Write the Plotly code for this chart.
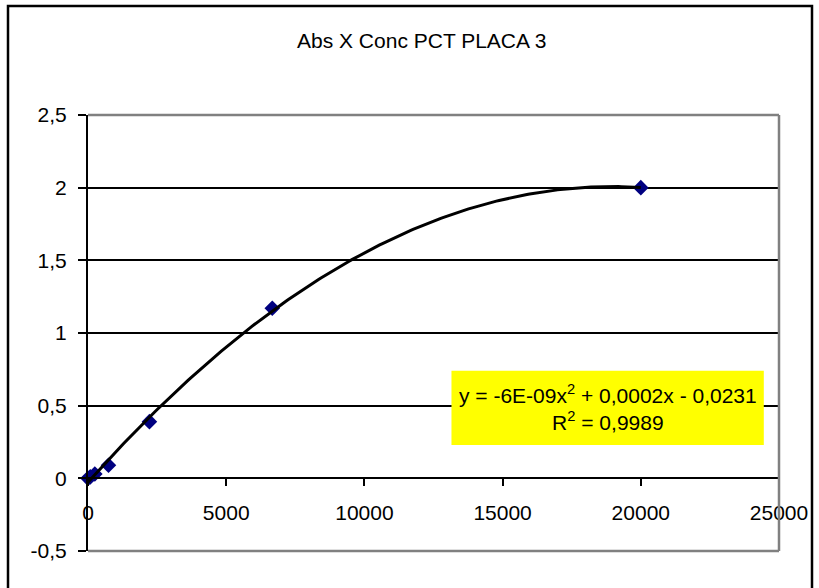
import numpy as np
import plotly.graph_objects as go

# Data
conc = [0, 82, 247, 741, 2222, 6667, 20000]
absorb = [0.0, 0.01, 0.03, 0.09, 0.39, 1.17, 2.0]

x_ticks = [0, 5000, 10000, 15000, 20000, 25000]
y_ticks = [-0.5, 0, 0.5, 1, 1.5, 2, 2.5]
y_tick_text = ["-0,5", "0", "0,5", "1", "1,5", "2", "2,5"]

title_text = "Abs X Conc PCT PLACA 3"
eq_text = "y = -6E-09x<sup>2</sup> + 0,0002x - 0,0231<br>R<sup>2</sup> = 0,9989"

# Polynomial (order 2) trendline fitted to the data, as in the original
coef = np.polyfit(conc, absorb, 2)
xs = np.linspace(min(conc), max(conc), 200)
ys = np.polyval(coef, xs)

font = "Liberation Sans, Arial, sans-serif"
FS = 21

fig = go.Figure()
fig.add_trace(go.Scatter(x=conc, y=absorb, mode="markers",
                         marker=dict(symbol="diamond", size=12, color="#000080"),
                         showlegend=False, cliponaxis=False))
fig.add_trace(go.Scatter(x=xs, y=ys, mode="lines",
                         line=dict(color="black", width=3),
                         showlegend=False))

W, H = 819, 588
L, R, T, B = 88, 40, 115, 37
fig.update_layout(
    width=W, height=H,
    margin=dict(l=L, r=R, t=T, b=B, pad=0),
    paper_bgcolor="white", plot_bgcolor="white",
    font=dict(family=font, size=FS, color="black"),
    xaxis=dict(range=[0, 25000], tickvals=x_ticks, ticktext=[str(v) for v in x_ticks],
               anchor="free", position=1/6, showline=True, linecolor="black", linewidth=2,
               ticks="outside", ticklen=7, tickwidth=2, tickcolor="black",
               ticklabelstandoff=8,
               showgrid=False, zeroline=False, tickfont=dict(size=FS)),
    yaxis=dict(range=[-0.5, 2.5], tickvals=y_ticks, ticktext=y_tick_text,
               showline=True, linecolor="black", linewidth=2,
               ticks="outside", ticklen=8, tickwidth=2, tickcolor="black",
               ticklabelstandoff=7,
               showgrid=True, gridcolor="black", gridwidth=2, zeroline=False,
               tickfont=dict(size=FS)),
    shapes=[
        # plot area border (gray)
        dict(type="line", xref="paper", yref="paper", x0=0, x1=1, y0=1, y1=1,
             line=dict(color="#808080", width=2.5)),
        dict(type="line", xref="paper", yref="paper", x0=1, x1=1, y0=0, y1=1,
             line=dict(color="#808080", width=2.5)),
        dict(type="line", xref="paper", yref="paper", x0=0, x1=1, y0=0, y1=0,
             line=dict(color="#808080", width=2.5)),
        # outer chart border
        dict(type="rect", xref="paper", yref="paper",
             x0=(8 - L) / (W - L - R), x1=(812 - L) / (W - L - R),
             y0=-(B + 20) / (H - T - B), y1=1 + (T - 6) / (H - T - B),
             line=dict(color="black", width=2.5), layer="below"),
        # yellow label box
        dict(type="rect", xref="x", yref="y", x0=13150, x1=24450, y0=0.23, y1=0.74,
             fillcolor="#ffff00", line=dict(width=0), layer="above"),
    ],
    annotations=[
        dict(text=title_text, xref="paper", yref="paper",
             x=(421 - L) / (W - L - R), y=1 + (T - 40) / (H - T - B),
             showarrow=False, font=dict(size=FS), xanchor="center", yanchor="middle"),
        dict(text=eq_text, xref="x", yref="y", x=18800, y=0.485,
             showarrow=False, font=dict(size=FS), xanchor="center", yanchor="middle",
             align="center"),
    ],
)

fig.write_html("out.html")
